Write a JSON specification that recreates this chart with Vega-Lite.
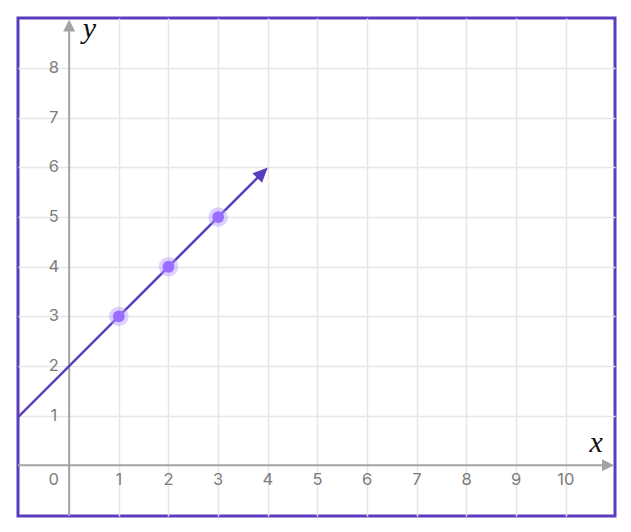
{
  "$schema": "https://vega.github.io/schema/vega-lite/v6.json",
  "width": 597,
  "height": 498,
  "autosize": "none",
  "padding": {"left": 18, "top": 18, "right": 16, "bottom": 16},
  "background": "white",
  "config": {
    "view": {"stroke": "#5a3cbf", "strokeWidth": 3},
    "axis": {"grid": true, "gridColor": "#e6e6e6", "gridWidth": 1.5, "labels": false, "ticks": false, "domain": false, "title": null}
  },
  "datasets": {
    "pts": [{"x": 1, "y": 3}, {"x": 2, "y": 4}, {"x": 3, "y": 5}],
    "line": [{"x": -1.03, "y": 0.97}, {"x": 3.86, "y": 5.86}],
    "head": [{"x": 4, "y": 6}],
    "xaxis": [{"x": -1.03, "x2": 10.75, "y": 0}],
    "yaxis": [{"x": 0, "y": -1.02, "y2": 8.75}],
    "xarrow": [{"x": 10.97, "y": 0}],
    "yarrow": [{"x": 0, "y": 8.98}],
    "xlabels": [
      {"x": -0.31, "y": -0.3, "t": "0"},
      {"x": 1, "y": -0.3, "t": "1"},
      {"x": 2, "y": -0.3, "t": "2"},
      {"x": 3, "y": -0.3, "t": "3"},
      {"x": 4, "y": -0.3, "t": "4"},
      {"x": 5, "y": -0.3, "t": "5"},
      {"x": 6, "y": -0.3, "t": "6"},
      {"x": 7, "y": -0.3, "t": "7"},
      {"x": 8, "y": -0.3, "t": "8"},
      {"x": 9, "y": -0.3, "t": "9"},
      {"x": 10, "y": -0.3, "t": "10"},
      {"x": -0.31, "y": 1, "t": "1"},
      {"x": -0.31, "y": 2, "t": "2"},
      {"x": -0.31, "y": 3, "t": "3"},
      {"x": -0.31, "y": 4, "t": "4"},
      {"x": -0.31, "y": 5, "t": "5"},
      {"x": -0.31, "y": 6, "t": "6"},
      {"x": -0.31, "y": 7, "t": "7"},
      {"x": -0.31, "y": 8, "t": "8"}
    ],
    "titles": [{"x": 10.61, "y": 0.27, "t": "x"}, {"x": 0.41, "y": 8.61, "t": "y"}]
  },
  "encoding": {
    "x": {"field": "x", "type": "quantitative", "scale": {"domain": [-1.03, 10.99], "nice": false, "zero": false}, "axis": {"values": [1, 2, 3, 4, 5, 6, 7, 8, 9, 10]}},
    "y": {"field": "y", "type": "quantitative", "scale": {"domain": [-1.02, 9.01], "nice": false, "zero": false}, "axis": {"values": [1, 2, 3, 4, 5, 6, 7, 8]}}
  },
  "layer": [
    {"data": {"name": "xaxis"}, "mark": {"type": "rule", "color": "#a3a3a3", "strokeWidth": 2}, "encoding": {"x2": {"field": "x2"}}},
    {"data": {"name": "yaxis"}, "mark": {"type": "rule", "color": "#a3a3a3", "strokeWidth": 2}, "encoding": {"y2": {"field": "y2"}}},
    {"data": {"name": "xarrow"}, "mark": {"type": "point", "shape": "M0,0 L0.5,1 L-0.5,1 Z", "angle": 90, "filled": true, "color": "#a3a3a3", "opacity": 1, "size": 576}},
    {"data": {"name": "yarrow"}, "mark": {"type": "point", "shape": "M0,0 L0.5,1 L-0.5,1 Z", "angle": 0, "filled": true, "color": "#a3a3a3", "opacity": 1, "size": 576}},
    {"data": {"name": "line"}, "mark": {"type": "line", "color": "#5a3cbf", "strokeWidth": 2.5, "clip": true}},
    {"data": {"name": "head"}, "mark": {"type": "point", "shape": "M0,0 L0.45,1 L-0.45,1 Z", "angle": 45, "filled": true, "color": "#5a3cbf", "opacity": 1, "size": 900}},
    {"data": {"name": "pts"}, "mark": {"type": "point", "shape": "circle", "filled": true, "color": "#b49bff", "opacity": 0.45, "size": 380}},
    {"data": {"name": "pts"}, "mark": {"type": "point", "shape": "circle", "filled": true, "color": "#9a6cff", "opacity": 1, "size": 140}},
    {"data": {"name": "xlabels"}, "mark": {"type": "text", "font": "Inter", "fontSize": 16.5, "color": "#7c7c7c", "align": "center", "baseline": "middle"}, "encoding": {"text": {"field": "t"}}},
    {"data": {"name": "titles"}, "mark": {"type": "text", "font": "Liberation Serif", "fontStyle": "italic", "fontSize": 30, "color": "#111111", "align": "center", "baseline": "alphabetic"}, "encoding": {"text": {"field": "t"}}}
  ]
}
